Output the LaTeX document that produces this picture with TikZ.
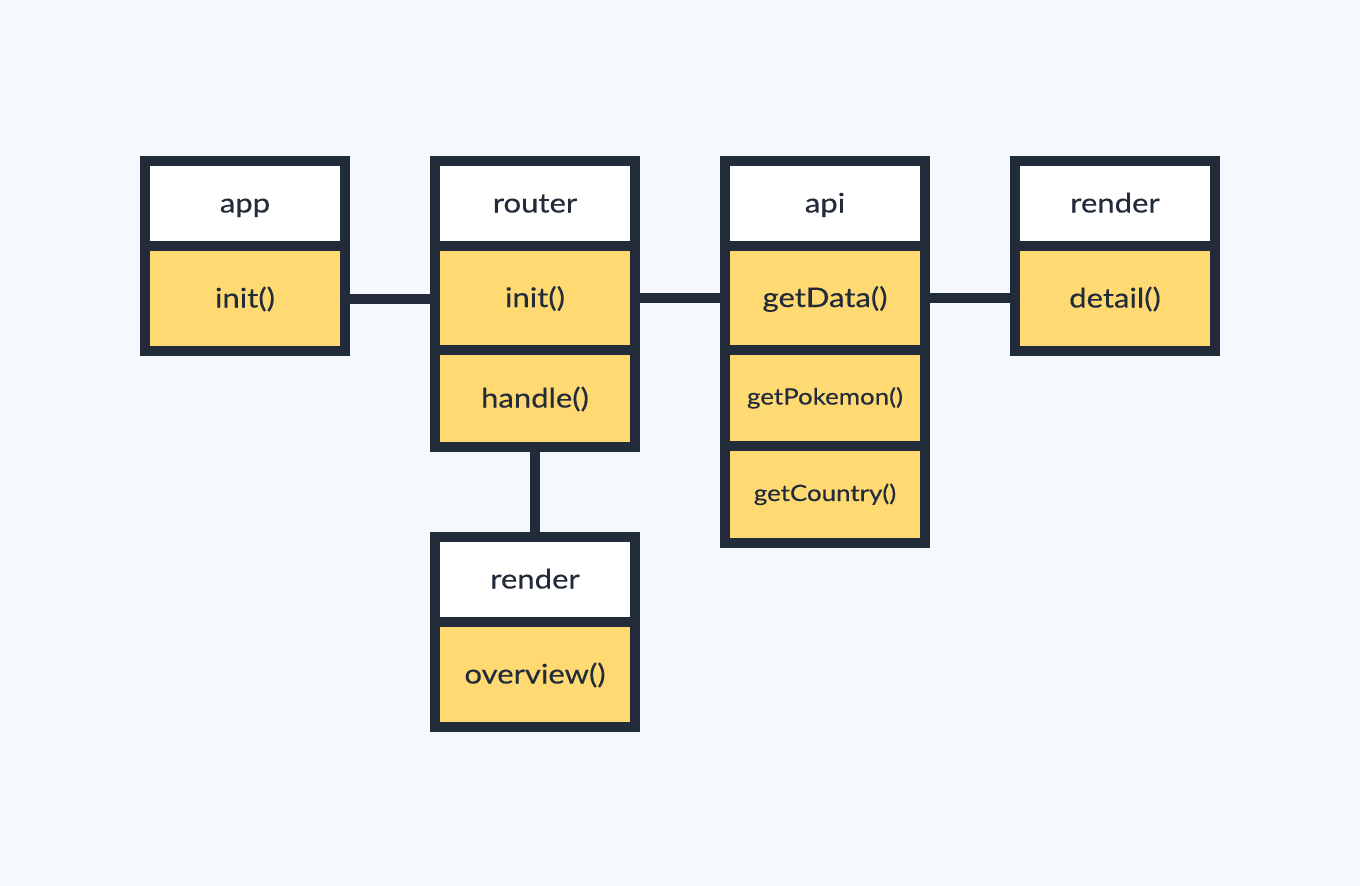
\documentclass[tikz,border=0pt]{standalone}
\usepackage{fontspec}
\setmainfont{Lato}[FakeStretch=1.15,FakeBold=0.3]
\definecolor{bgc}{HTML}{F5F9FC}
\definecolor{ink}{HTML}{222B3A}
\definecolor{gold}{HTML}{FFD972}
\begin{document}
\begin{tikzpicture}[x=1pt,y=-1pt,
  cell/.style={draw=ink, line width=10pt, minimum width=200pt, inner sep=0pt, outer sep=0pt,
    text=ink, font=\fontsize{27}{32}\selectfont, text height=25pt, text depth=7pt},
  head/.style={cell, fill=white, minimum height=85pt},
  meth/.style={cell, fill=gold},
  small/.style={font=\fontsize{22.5}{27}\selectfont, text height=20pt, text depth=7pt},
  link/.style={draw=ink, line width=10pt}]
\fill[bgc] (0,0) rectangle (1360,886);
\useasboundingbox (0,0) rectangle (1360,886);
% app
\node[head] (a1) at (245,203.5) {app};
\node[meth, minimum height=105pt] (a2) at (245,298.5) {init()};
% router
\node[head] (r1) at (535,203.5) {router};
\node[meth, minimum height=104pt] (r2) at (535,298) {init()};
\node[meth, minimum height=97pt] (r3) at (535,398.5) {handle()};
% api
\node[head] (p1) at (825,203.5) {api};
\node[meth, minimum height=104pt] (p2) at (825,298) {getData()};
\node[meth, small, minimum height=96pt] (p3) at (825,398) {getPokemon()};
\node[meth, small, minimum height=97pt] (p4) at (825,494.5) {getCountry()};
% render (detail)
\node[head] (d1) at (1115,203.5) {render};
\node[meth, minimum height=105pt] (d2) at (1115,298.5) {detail()};
% render (overview)
\node[head] (o1) at (535,579.5) {render};
\node[meth, minimum height=105pt] (o2) at (535,674.5) {overview()};
% connectors
\draw[link] (a2.east) -- (a2.east -| r2.west);
\draw[link] (r2.east) -- (r2.east -| p2.west);
\draw[link] (p2.east) -- (p2.east -| d2.west);
\draw[link] (r3.south) -- (o1.north);
\end{tikzpicture}
\end{document}
